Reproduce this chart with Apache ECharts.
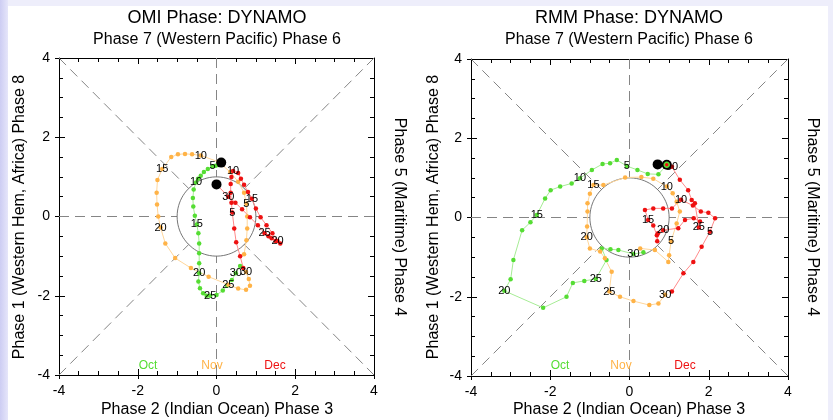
<!DOCTYPE html>
<html>
<head>
<meta charset="utf-8">
<script src="https://cdn.jsdelivr.net/npm/echarts@6/dist/echarts.min.js"></script>
<style>
  body { margin: 0; background: #eeeefb; }
  #bg { position: absolute; left: 8px; top: 6px; width: 820px; height: 414px; background: #fff; }
  #strip { position: absolute; left: 0; top: 0; width: 8px; height: 420px; background: linear-gradient(to right, #cdcdf3, #e6e6fa); }
  #chart { position: absolute; left: 0; top: 0; width: 833px; height: 420px; }
</style>
</head>
<body>
<div id="strip"></div>
<div id="bg"></div>
<div id="chart"></div>
<script>
// OMI 相位轨迹 (Oct / Nov / Dec)
var omiOct = [[0.12,1.36],[0.1,1.33],[0.05,1.3],[-0.02,1.28],[-0.1,1.27],[-0.22,1.2],[-0.32,1.12],[-0.4,1.03],[-0.47,0.95],[-0.52,0.86],
  [-0.58,0.68],[-0.6,0.47],[-0.59,0.25],[-0.55,0.02],[-0.5,-0.2],[-0.46,-0.42],[-0.44,-0.68],[-0.44,-0.93],[-0.44,-1.18],[-0.44,-1.43],
  [-0.46,-1.64],[-0.42,-1.81],[-0.34,-1.94],[-0.25,-2.0],[-0.16,-2.0],[0,-1.98],[0.16,-1.87],[0.27,-1.75],[0.39,-1.6],[0.49,-1.43],[0.6,-1.25]];
var omiNov = [[0.7,-0.95],[0.76,-0.6],[0.78,-0.3],[0.78,0.0],[0.76,0.32],[0.7,0.6],[0.55,0.88],[0.35,1.12],[0.05,1.38],[-0.4,1.54],
  [-0.62,1.57],[-0.8,1.58],[-0.98,1.57],[-1.15,1.5],[-1.38,1.2],[-1.5,0.92],[-1.52,0.6],[-1.51,0.3],[-1.48,0.0],[-1.42,-0.28],
  [-1.3,-0.68],[-1.05,-1.05],[-0.65,-1.3],[-0.2,-1.52],[0.3,-1.72],[0.55,-1.82],[0.75,-1.85],[0.85,-1.75],[0.82,-1.58],[0.75,-1.4]];
var omiDec = [[0.68,-1.3],[0.6,-1.0],[0.5,-0.65],[0.45,-0.3],[0.4,0.1],[0.38,0.35],[0.36,0.6],[0.36,0.82],[0.38,1.0],[0.42,1.15],
  [0.55,1.1],[0.62,0.95],[0.7,0.8],[0.8,0.62],[0.9,0.45],[1.0,0.2],[1.12,-0.02],[1.27,-0.22],[1.42,-0.42],[1.55,-0.62],
  [1.62,-0.68],[1.5,-0.62],[1.4,-0.55],[1.32,-0.5],[1.22,-0.42],[1.05,-0.22],[0.85,-0.02],[0.65,0.18],[0.48,0.35],[0.3,0.5],[0.0,0.81]];
var omiMarks = [[0.12,1.36],[0.0,0.81]];

// RMM 相位轨迹
var rmmOct = [[0.94,1.33],[0.73,1.09],[0.46,1.1],[0.2,1.2],[-0.07,1.3],[-0.32,1.45],[-0.49,1.37],[-0.68,1.35],[-0.95,1.2],[-1.25,0.99],
  [-1.46,0.86],[-1.75,0.78],[-1.99,0.69],[-2.13,0.48],[-2.34,0.06],[-2.5,-0.12],[-2.71,-0.32],[-2.93,-1.07],[-3.0,-1.56],[-3.16,-1.85],
  [-2.18,-2.28],[-1.59,-2.0],[-1.43,-1.65],[-1.14,-1.6],[-0.85,-1.55],[-0.58,-1.07],[-0.7,-0.78],[-0.48,-0.8],[-0.28,-0.82],[0.1,-0.92],[0.35,-0.88]];
var rmmNov = [[0.27,-0.78],[0.64,-0.82],[0.98,-1.12],[1.0,-0.95],[1.05,-0.6],[1.19,-0.15],[1.27,0.15],[1.19,0.4],[1.09,0.61],[0.94,0.78],
  [0.6,0.98],[0.3,1.02],[-0.11,1.01],[-0.66,0.82],[-0.91,0.82],[-1.0,0.6],[-1.06,0.36],[-1.06,0.15],[-1.07,-0.23],[-1.08,-0.5],
  [-1.0,-0.78],[-0.74,-0.86],[-0.62,-1.03],[-0.45,-1.37],[-0.51,-1.87],[-0.24,-2.0],[0.1,-2.11],[0.5,-2.21],[0.73,-2.17],[0.9,-1.95]];
var rmmDec = [[1.07,-1.87],[1.36,-1.41],[1.61,-1.12],[1.82,-0.74],[2.03,-0.36],[2.16,-0.02],[1.99,0.12],[1.8,0.15],[1.6,0.3],[1.3,0.45],
  [1.07,0.23],[0.85,0.23],[0.6,0.23],[0.39,0.19],[0.47,-0.06],[0.6,-0.2],[0.69,-0.45],[0.7,-0.6],[0.72,-0.4],[0.85,-0.32],
  [1.23,-0.27],[1.4,-0.06],[1.62,-0.02],[1.78,-0.1],[1.75,-0.25],[1.65,0.36],[1.57,0.44],[1.48,0.69],[1.27,0.95],[1.07,1.28],[0.94,1.33]];
var rmmMarks = [[0.71,1.34],[0.94,1.33]];

var months = ["Oct", "Nov", "Dec"];
var axisMin = -4, axisMax = 4;

var FONT = "Liberation Sans, Arial, sans-serif";
var dotColor = ["#55dd33", "#ffb347", "#ee1111"];
var lineColor = ["#a6ec95", "#ffd69a", "#ff8a8a"];

(function () {
  var myChart = echarts.init(document.getElementById("chart"));
  var grids = [
    { left: 59, top: 58, width: 315, height: 317 },
    { left: 471, top: 59, width: 317, height: 317 },
  ];
  var xAxes = [], yAxes = [], series = [];

  //坐标轴：带标签的一侧 + 对侧 + 外伸主刻度
  grids.forEach(function (g, gi) {
    var base = { type: "value", gridIndex: gi, min: axisMin, max: axisMax, interval: 2, splitLine: { show: false } };
    var lab = { color: "#000", fontSize: 14, fontFamily: FONT, margin: 9 };
    xAxes.push(Object.assign({}, base, {
      position: "bottom",
      axisLine: { onZero: false, lineStyle: { color: "#000", width: 1 } },
      axisTick: { inside: true, length: 6, lineStyle: { color: "#000" } },
      minorTick: { show: true, splitNumber: 4, length: 4, lineStyle: { color: "#000" } },
      axisLabel: lab,
    }));
    xAxes.push(Object.assign({}, base, {
      position: "top",
      axisLine: { onZero: false, lineStyle: { color: "#000", width: 1 } },
      axisTick: { inside: true, length: 6, lineStyle: { color: "#000" } },
      minorTick: { show: true, splitNumber: 4, length: 4, lineStyle: { color: "#000" } },
      axisLabel: { show: false },
    }));
    xAxes.push(Object.assign({}, base, {
      position: "bottom",
      axisLine: { show: false, onZero: false },
      axisTick: { inside: false, length: 4, lineStyle: { color: "#000" } },
      axisLabel: { show: false },
    }));
    yAxes.push(Object.assign({}, base, {
      position: "left",
      axisLine: { onZero: false, lineStyle: { color: "#000", width: 1 } },
      axisTick: { inside: true, length: 6, lineStyle: { color: "#000" } },
      minorTick: { show: true, splitNumber: 4, length: 4, lineStyle: { color: "#000" } },
      axisLabel: lab,
    }));
    yAxes.push(Object.assign({}, base, {
      position: "right",
      axisLine: { onZero: false, lineStyle: { color: "#000", width: 1 } },
      axisTick: { inside: true, length: 6, lineStyle: { color: "#000" } },
      minorTick: { show: true, splitNumber: 4, length: 4, lineStyle: { color: "#000" } },
      axisLabel: { show: false },
    }));
    yAxes.push(Object.assign({}, base, {
      position: "left",
      axisLine: { show: false, onZero: false },
      axisTick: { inside: false, length: 4, lineStyle: { color: "#000" } },
      axisLabel: { show: false },
    }));
  });

  //辅助线：对角虚线、坐标虚线、单位圆
  var r = Math.SQRT1_2;
  var guides = [
    [[-4, -4], [-r, -r]], [[4, 4], [r, r]], [[-4, 4], [-r, r]], [[4, -4], [r, -r]],
    [[-4, 0], [-1, 0]], [[4, 0], [1, 0]], [[0, -4], [0, -1]], [[0, 4], [0, 1]],
  ];
  var circle = [];
  for (var k = 0; k <= 90; k++) {
    var a = (k / 90) * 2 * Math.PI;
    circle.push([Math.cos(a), Math.sin(a)]);
  }
  grids.forEach(function (g, gi) {
    guides.forEach(function (seg) {
      series.push({
        type: "line", xAxisIndex: gi * 3, yAxisIndex: gi * 3, data: seg, symbol: "none", silent: true,
        lineStyle: { color: "#858585", width: 1, type: [10, 6] }, z: 1,
      });
    });
    series.push({
      type: "line", xAxisIndex: gi * 3, yAxisIndex: gi * 3, data: circle, symbol: "none", silent: true,
      lineStyle: { color: "#666", width: 0.9 }, z: 1,
    });
  });

  //轨迹
  function track(gi, data, m) {
    return {
      type: "line", xAxisIndex: gi * 3, yAxisIndex: gi * 3, data: data,
      symbol: "circle", symbolSize: 4.5, showAllSymbol: true,
      itemStyle: { color: dotColor[m] },
      lineStyle: { color: lineColor[m], width: 1 },
      label: {
        show: true, position: "inside", color: "#000", fontSize: 11, fontFamily: FONT,
        formatter: function (p) { return (p.dataIndex + 1) % 5 === 0 ? String(p.dataIndex + 1) : ""; },
      },
      z: 3,
    };
  }
  [[omiOct, omiNov, omiDec], [rmmOct, rmmNov, rmmDec]].forEach(function (set, gi) {
    set.forEach(function (d, m) { series.push(track(gi, d, m)); });
  });

  series.push({ type: "scatter", xAxisIndex: 0, yAxisIndex: 0, data: omiMarks, symbolSize: 10, itemStyle: { color: "#000", opacity: 1 }, z: 5 });
  series.push({ type: "scatter", xAxisIndex: 3, yAxisIndex: 3, data: rmmMarks, symbolSize: 10, itemStyle: { color: "#000", opacity: 1 }, z: 5 });
  series.push({
    type: "scatter", xAxisIndex: 3, yAxisIndex: 3, data: [rmmMarks[1]], symbolSize: 5,
    itemStyle: { color: "#ee1111", borderColor: "#55dd33", borderWidth: 1.5, opacity: 1 }, z: 6,
  });

  //文字
  function txt(x, y, s, size, color, rot) {
    return {
      type: "text", x: x, y: y, rotation: rot || 0, z: 10,
      style: { text: s, fontSize: size, fontFamily: FONT, fill: color || "#000", align: "center", verticalAlign: "middle" },
    };
  }
  var graphics = [];
  [["OMI Phase: DYNAMO", 217, 399, 20, 148, 212, 275], ["RMM Phase: DYNAMO", 629, 812, 434, 560, 621, 685]].forEach(function (p) {
    graphics.push(txt(p[1], 18, p[0], 18));
    graphics.push(txt(p[1], 40, "Phase 7 (Western Pacific) Phase 6", 16));
    graphics.push(txt(p[1], 410, "Phase 2 (Indian Ocean) Phase 3", 16));
    graphics.push(txt(p[3], 217, "Phase 1 (Western Hem, Africa) Phase 8", 16, "#000", Math.PI / 2));
    graphics.push(txt(p[2], 217, "Phase 5 (Maritime) Phase 4", 16, "#000", -Math.PI / 2));
    months.forEach(function (mn, m) {
      graphics.push(txt(p[4 + m], 366, mn, 12, dotColor[m]));
    });
  });

  var option = {
    animation: false,
    grid: grids,
    xAxis: xAxes,
    yAxis: yAxes,
    series: series,
    graphic: graphics,
  };
  myChart.setOption(option);
})();
</script>
</body>
</html>
